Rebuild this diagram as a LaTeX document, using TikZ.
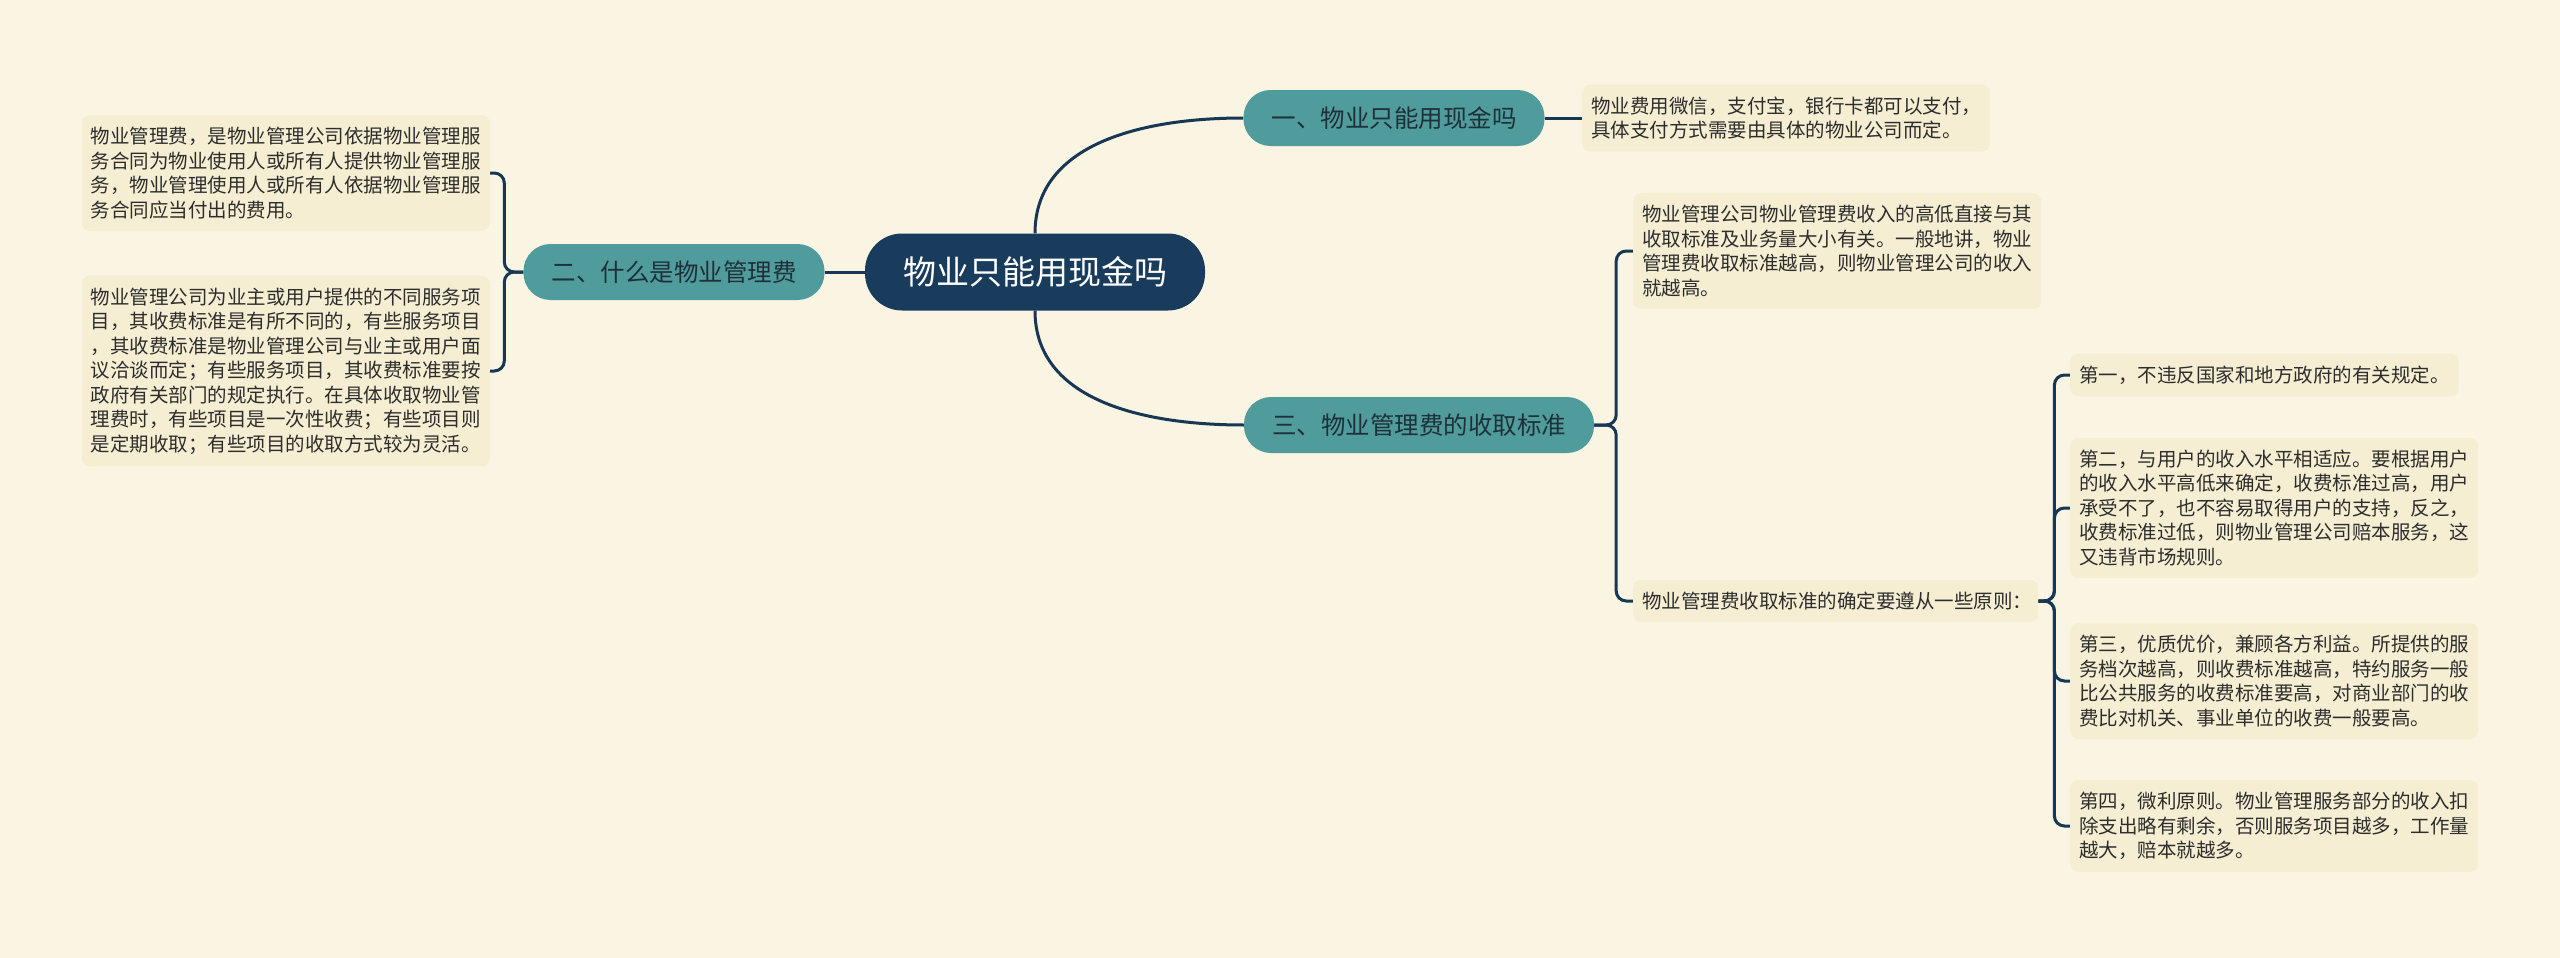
\documentclass[tikz,border=0pt]{standalone}
\usepackage{fontspec}
\newfontfamily\cjk{Noto Sans CJK SC}
\definecolor{mapbg}{RGB}{250,245,227}
\definecolor{mapnote}{RGB}{245,238,210}
\definecolor{mapteal}{RGB}{80,155,155}
\definecolor{mapnavy}{RGB}{25,60,92}
\definecolor{mapline}{RGB}{24,55,85}
\definecolor{maptext}{RGB}{30,48,58}
\definecolor{mapgray}{RGB}{45,45,45}
\usetikzlibrary{positioning,backgrounds}

\begin{document}
\begin{tikzpicture}[x=1pt,y=-1pt,
	link/.style={draw=mapline,line width=3pt},
	root/.style={fill=mapnavy,text=white,rounded corners=37pt,minimum height=77pt,inner xsep=38pt,font=\cjk\fontsize{33}{40}\selectfont},
	topic/.style={fill=mapteal,text=maptext,rounded corners=27pt,minimum height=56pt,inner xsep=28pt,font=\cjk\fontsize{24.5}{30}\selectfont},
	note/.style={fill=mapnote,text=mapgray,rounded corners=8pt,inner xsep=9pt,inner ysep=12pt,align=left,font=\cjk\fontsize{19.5}{24.5}\selectfont}]
				\useasboundingbox (0,0) rectangle (2560,958);
				
				\node[root] (root) at (1035,272) {物业只能用现金吗};
				\node[topic] (t1) at (1394,118) {一、物业只能用现金吗};
				\node[topic] (t2) at (674,272) {二、什么是物业管理费};
				\node[topic] (t3) at (1419,425) {三、物业管理费的收取标准};
				
				\node[note,anchor=west] (n11) at (1582,118) {物业费用微信，支付宝，银行卡都可以支付，\\具体支付方式需要由具体的物业公司而定。};
				
				\node[note,anchor=east] (n21) at (490,173) {物业管理费，是物业管理公司依据物业管理服\\务合同为物业使用人或所有人提供物业管理服\\务，物业管理使用人或所有人依据物业管理服\\务合同应当付出的费用。};
				\node[note,anchor=east] (n22) at (490,371) {物业管理公司为业主或用户提供的不同服务项\\目，其收费标准是有所不同的，有些服务项目\\，其收费标准是物业管理公司与业主或用户面\\议洽谈而定；有些服务项目，其收费标准要按\\政府有关部门的规定执行。在具体收取物业管\\理费时，有些项目是一次性收费；有些项目则\\是定期收取；有些项目的收取方式较为灵活。};
				
				\node[note,anchor=west] (n31) at (1633,251) {物业管理公司物业管理费收入的高低直接与其\\收取标准及业务量大小有关。一般地讲，物业\\管理费收取标准越高，则物业管理公司的收入\\就越高。};
				\node[note,anchor=west,text width=387pt] (n32) at (1633,601) {物业管理费收取标准的确定要遵从一些原则：};
				
				\node[note,anchor=west] (s1) at (2070,375) {第一，不违反国家和地方政府的有关规定。};
				\node[note,anchor=west] (s2) at (2070,508) {第二，与用户的收入水平相适应。要根据用户\\的收入水平高低来确定，收费标准过高，用户\\承受不了，也不容易取得用户的支持，反之，\\收费标准过低，则物业管理公司赔本服务，这\\又违背市场规则。};
				\node[note,anchor=west] (s3) at (2070,681) {第三，优质优价，兼顾各方利益。所提供的服\\务档次越高，则收费标准越高，特约服务一般\\比公共服务的收费标准要高，对商业部门的收\\费比对机关、事业单位的收费一般要高。};
				\node[note,anchor=west] (s4) at (2070,826) {第四，微利原则。物业管理服务部分的收入扣\\除支出略有剩余，否则服务项目越多，工作量\\越大，赔本就越多。};
				
				\begin{scope}[on background layer]
				\fill[mapbg] (0,0) rectangle (2560,958);
				\draw[link] (root) -- (t2);
				\draw[link] (root.north) to[out=90,in=180] (t1.west);
				\draw[link] (root.south) to[out=-90,in=180] (t3.west);
				\draw[link] (t1) -- (n11);
				\draw[link,rounded corners=10pt] (t2.west) -- ++(-19,0) |- (n21.east);
				\draw[link,rounded corners=10pt] (t2.west) -- ++(-19,0) |- (n22.east);
				\draw[link,rounded corners=10pt] (t3.east) -- ++(22,0) |- (n31.west);
				\draw[link,rounded corners=10pt] (t3.east) -- ++(22,0) |- (n32.west);
				\foreach \s in {s1,s2,s3,s4}
					\draw[link,rounded corners=10pt] (n32.east) -- ++(16,0) |- (\s.west);
				\end{scope}
			\end{tikzpicture}
\end{document}
